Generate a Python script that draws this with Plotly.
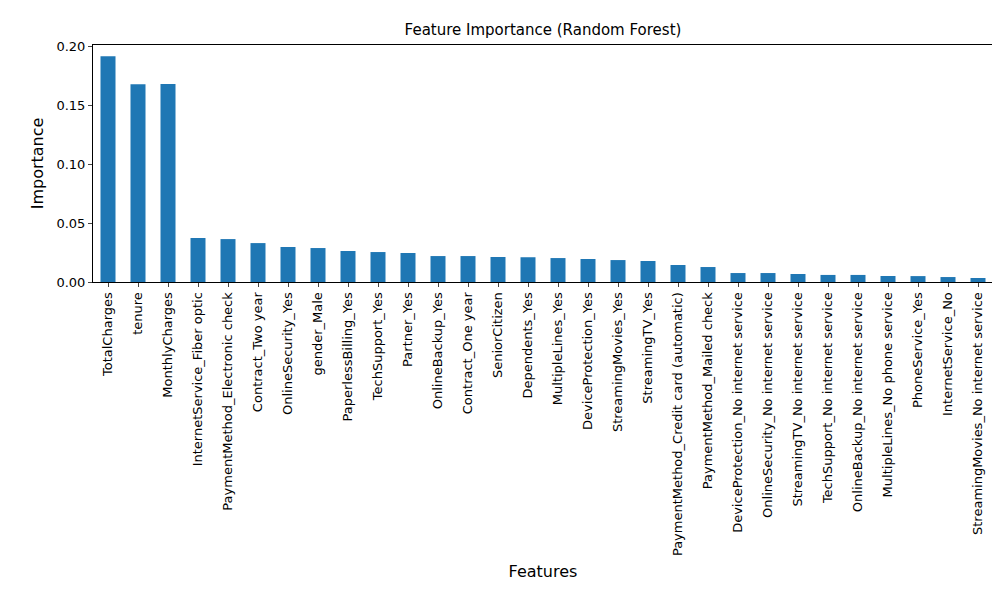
import plotly.graph_objects as go

features = ["TotalCharges", "tenure", "MonthlyCharges", "InternetService_Fiber optic",
            "PaymentMethod_Electronic check", "Contract_Two year", "OnlineSecurity_Yes",
            "gender_Male", "PaperlessBilling_Yes", "TechSupport_Yes", "Partner_Yes",
            "OnlineBackup_Yes", "Contract_One year", "SeniorCitizen", "Dependents_Yes",
            "MultipleLines_Yes", "DeviceProtection_Yes", "StreamingMovies_Yes", "StreamingTV_Yes",
            "PaymentMethod_Credit card (automatic)", "PaymentMethod_Mailed check",
            "DeviceProtection_No internet service", "OnlineSecurity_No internet service",
            "StreamingTV_No internet service", "TechSupport_No internet service",
            "OnlineBackup_No internet service", "MultipleLines_No phone service",
            "PhoneService_Yes", "InternetService_No", "StreamingMovies_No internet service"]
importance = [0.1915, 0.1678, 0.168, 0.0373, 0.0364, 0.033, 0.0297, 0.0288, 0.0263, 0.0254,
              0.0246, 0.022, 0.022, 0.0212, 0.021, 0.0203, 0.0195, 0.0186, 0.0178, 0.0144,
              0.0127, 0.0076, 0.0076, 0.0068, 0.006, 0.006, 0.0051, 0.005, 0.0042, 0.0034]

fig = go.Figure(go.Bar(x=features, y=importance, width=0.5, marker_color="#1f77b4",
                       marker_line_width=0))

fig.update_layout(
    width=1000, height=600,
    paper_bgcolor="white", plot_bgcolor="white",
    font=dict(family="DejaVu Sans", size=13, color="black"),
    margin=dict(l=85, r=15, t=37, b=326, autoexpand=False),
    title=dict(text="Feature Importance (Random Forest)", x=0.535, xanchor="center",
               y=0.963, yanchor="middle", font=dict(size=15)),
    showlegend=False,
)
fig.update_xaxes(title=dict(text="Features", standoff=10), tickangle=-90, automargin=False,
                 showline=True, linecolor="black", mirror=True, ticks="outside",
                 ticklen=4, range=[-0.5, 29.5], showgrid=False)
fig.update_yaxes(title=dict(text="Importance", standoff=8), range=[0, 0.201], dtick=0.05,
                 tickformat=".2f", showline=True, linecolor="black", mirror=True,
                 automargin=False, ticks="outside", ticklen=4, showgrid=False,
                 zeroline=False)

fig.write_html("out.html")
